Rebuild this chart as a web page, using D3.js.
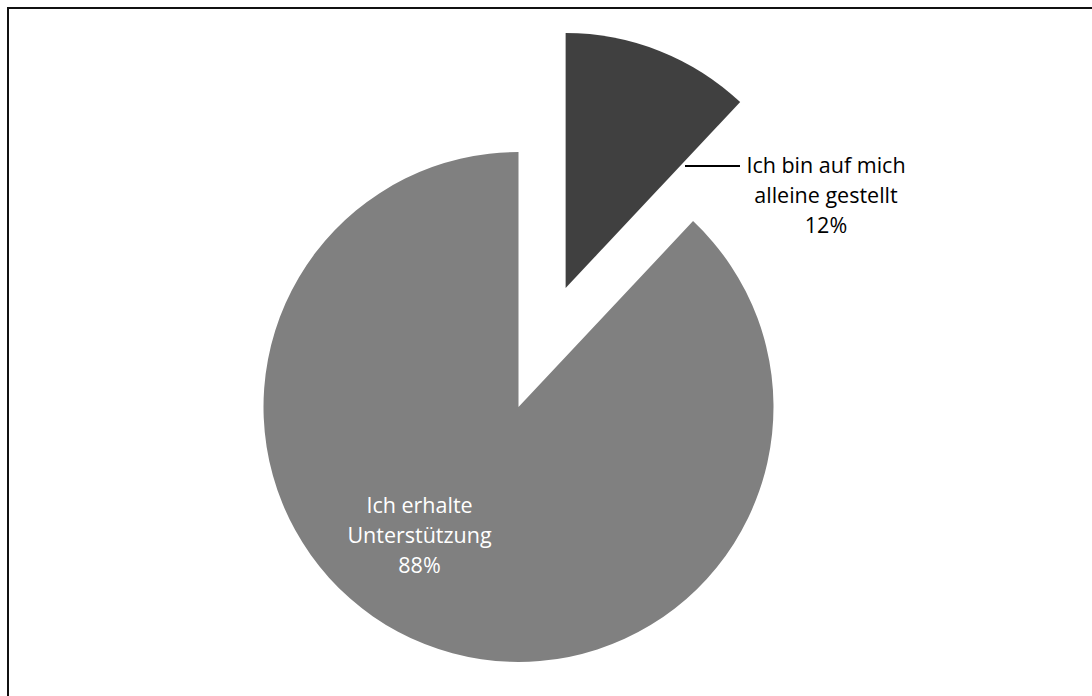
<!DOCTYPE html>
<html>
<head>
<meta charset="utf-8">
<script src="https://cdn.jsdelivr.net/npm/d3@7"></script>
<style>
  html, body { margin: 0; padding: 0; background: #fff; }
  svg { display: block; }
</style>
</head>
<body>
<svg id="chart" width="1092" height="696"></svg>
<script>
// Survey answers: share of respondents per answer
const categories = ["Ich bin auf mich alleine gestellt", "Ich erhalte Unterstützung"];
const labelLines = [["Ich bin auf mich", "alleine gestellt"], ["Ich erhalte", "Unterstützung"]];
const values = [12, 88];
const colors = ["#404040", "#808080"];
const textColors = ["#000000", "#ffffff"];

const width = 1092, height = 696;
const cx = 518.5, cy = 407, radius = 255;
const explode = 128;           // offset of the pulled-out slice
const font = "'Open Sans', 'Noto Sans', sans-serif";
const fontSize = 21.5;

const svg = d3.select("#chart");

// frame (runs past the right and bottom edge)
svg.append("rect")
  .attr("x", 8).attr("y", 8)
  .attr("width", 1200).attr("height", 800)
  .attr("fill", "none").attr("stroke", "#111").attr("stroke-width", 2);

const data = categories.map((c, i) => ({ name: c, value: values[i], i }));
const pie = d3.pie().value(d => d.value).sort(null);
const arcs = pie(data);
const arc = d3.arc().innerRadius(0).outerRadius(radius);

const g = svg.append("g").attr("transform", `translate(${cx},${cy})`);

function offsetOf(d) {
  if (d.index !== 0) return [0, 0];
  const mid = (d.startAngle + d.endAngle) / 2;
  return [Math.sin(mid) * explode, -Math.cos(mid) * explode];
}

g.selectAll("path.slice")
  .data(arcs)
  .join("path")
  .attr("class", "slice")
  .attr("d", arc)
  .attr("fill", (d, i) => colors[i])
  .attr("transform", d => `translate(${offsetOf(d)})`);

const pct = d3.format(".0%");
const lineH = 30;

// Small slice: label outside to the right with a leader line
{
  const d = arcs[0];
  const y0 = -241;
  g.append("line")
    .attr("x1", 166.5).attr("y1", y0)
    .attr("x2", 221.5).attr("y2", y0)
    .attr("stroke", "#000").attr("stroke-width", 2);
  const t = g.append("text")
    .attr("font-family", font).attr("font-size", fontSize)
    .attr("fill", textColors[0]).attr("text-anchor", "middle");
  const lines = labelLines[0].concat([pct(d.data.value / 100)]);
  lines.forEach((s, k) => {
    t.append("tspan").attr("x", 307.5).attr("y", y0 + 7 + k * lineH).text(s);
  });
}

// Large slice: label inside
{
  const d = arcs[1];
  const t = g.append("text")
    .attr("font-family", font).attr("font-size", fontSize)
    .attr("fill", textColors[1]).attr("text-anchor", "middle");
  const lines = labelLines[1].concat([pct(d.data.value / 100)]);
  lines.forEach((s, k) => {
    t.append("tspan").attr("x", -99).attr("y", 106 + k * lineH).text(s);
  });
}
</script>
</body>
</html>
